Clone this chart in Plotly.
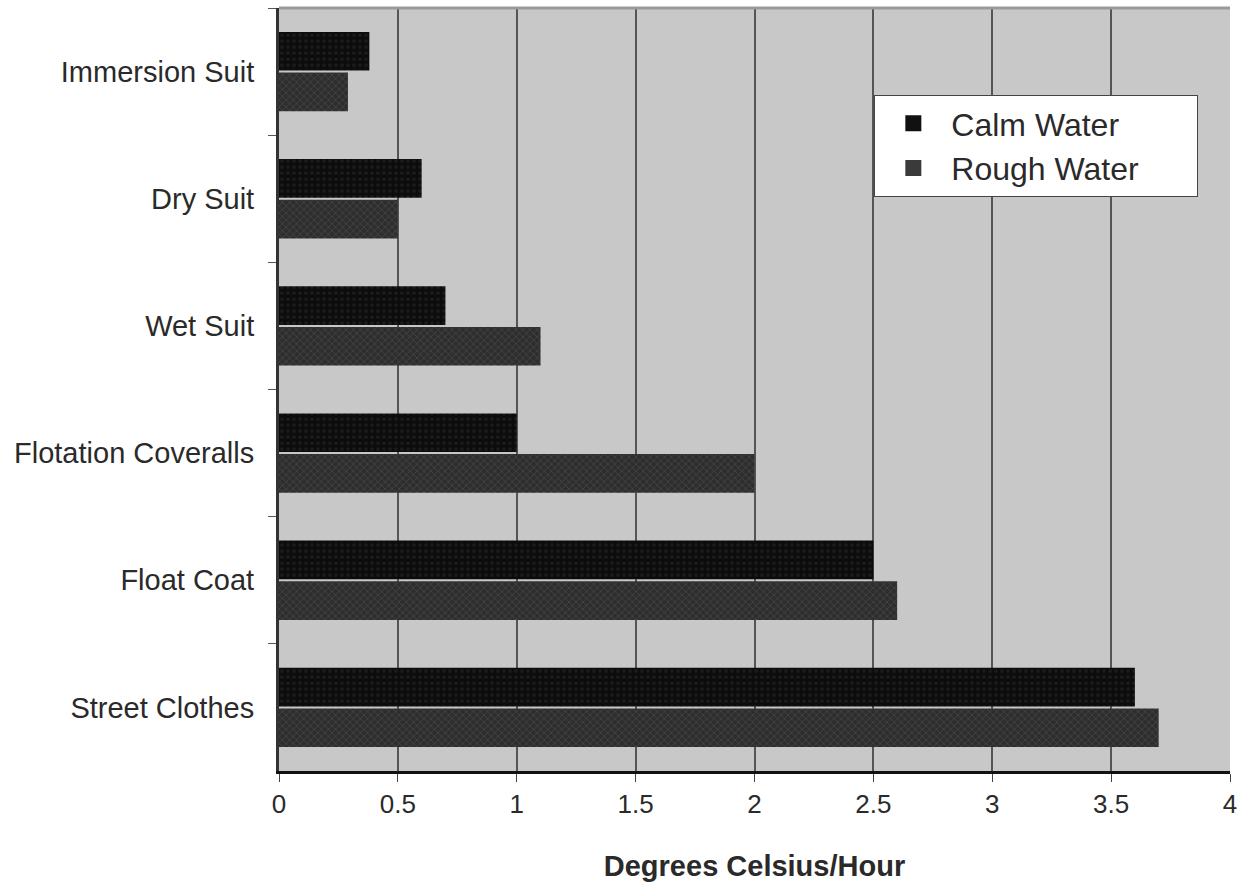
import plotly.graph_objects as go

categories = ["Immersion Suit", "Dry Suit", "Wet Suit", "Flotation Coveralls", "Float Coat", "Street Clothes"]
calm_water = [0.38, 0.6, 0.7, 1.0, 2.5, 3.6]
rough_water = [0.29, 0.5, 1.1, 2.0, 2.6, 3.7]
x_ticks = [0, 0.5, 1, 1.5, 2, 2.5, 3, 3.5, 4]
x_tick_labels = ["0", "0.5", "1", "1.5", "2", "2.5", "3", "3.5", "4"]
legend_names = ["Calm Water", "Rough Water"]

font = "Liberation Sans, Arial, sans-serif"
calm_color = "#111111"
rough_color = "#3a3a3a"
pad = "\u00a0" * 6

fig = go.Figure()
fig.add_trace(go.Bar(
    y=categories, x=calm_water, orientation="h", name=legend_names[0], showlegend=False,
    marker=dict(color=calm_color, line=dict(width=0),
                pattern=dict(shape=".", fgcolor="#2a2a2a", bgcolor="#0c0c0c", size=6, solidity=0.3)),
))
fig.add_trace(go.Bar(
    y=categories, x=rough_water, orientation="h", name=legend_names[1], showlegend=False,
    marker=dict(color=rough_color, line=dict(width=0),
                pattern=dict(shape="x", fgcolor="#5a5a5a", bgcolor="#2e2e2e", size=5, solidity=0.3)),
))
# legend entries with larger square swatches
fig.add_trace(go.Scatter(x=[None], y=[None], mode="markers", name=legend_names[0] + pad,
                         marker=dict(symbol="square", size=22, color=calm_color)))
fig.add_trace(go.Scatter(x=[None], y=[None], mode="markers", name=legend_names[1] + pad,
                         marker=dict(symbol="square", size=22, color=rough_color)))

fig.update_layout(
    width=1244, height=882,
    margin=dict(l=279, r=14, t=8, b=111),
    paper_bgcolor="white",
    plot_bgcolor="#c8c8c8",
    barmode="group",
    bargap=0.36,
    bargroupgap=0.05,
    font=dict(family=font, size=29, color="#2a2a2a"),
    showlegend=True,
    legend=dict(
        x=0.626, y=0.886, xanchor="left", yanchor="top",
        bgcolor="white", bordercolor="#444444", borderwidth=1,
        font=dict(size=32, color="#2a2a2a"),
        traceorder="normal",
        itemsizing="trace",
        itemwidth=66,
        tracegroupgap=0,
    ),
    xaxis=dict(
        range=[0, 4], tickvals=x_ticks, ticktext=x_tick_labels,
        showgrid=True, gridcolor="#555555", gridwidth=2,
        zeroline=False,
        showline=True, linecolor="#111111", linewidth=3,
        ticks="outside", ticklen=8, tickcolor="#444444",
        tickfont=dict(size=26, family=font, color="#2a2a2a"),
        title=dict(text="<b>Degrees Celsius/Hour</b>", font=dict(size=29, family=font, color="#2a2a2a"), standoff=38),
        automargin=False,
        mirror=False,
    ),
    yaxis=dict(
        autorange="reversed",
        showgrid=False,
        showline=True, linecolor="#333333", linewidth=3,
        ticks="outside", ticklen=8, tickcolor="#555555",
        tickson="boundaries",
        tickfont=dict(size=29, family=font, color="#2a2a2a"),
        ticklabelstandoff=16,
        automargin=False,
    ),
    shapes=[dict(type="line", xref="paper", yref="paper", x0=0, x1=1, y0=1, y1=1,
                 line=dict(color="#9a9a9a", width=3))],
)

fig.write_html("out.html")
